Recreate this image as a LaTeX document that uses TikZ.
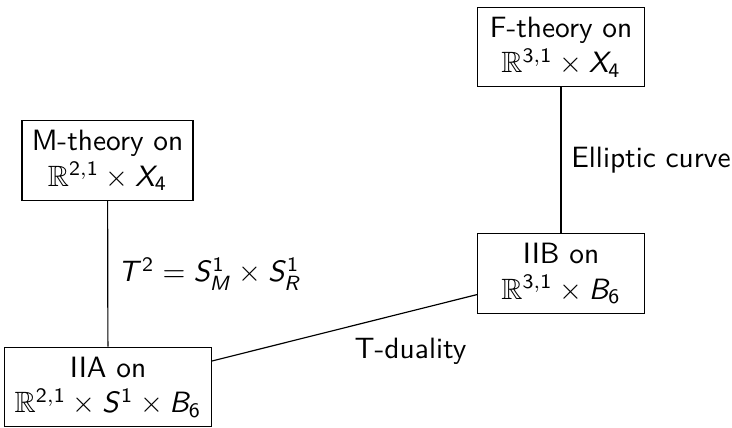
\documentclass[tikz,border=0pt]{standalone}
\usepackage{amsmath,amssymb}
\usepackage{tikz}
\usetikzlibrary{positioning}
% sans serif letters and digits in math
\DeclareSymbolFont{sfup}{OT1}{cmss}{m}{n}
\DeclareSymbolFont{sfit}{OT1}{cmss}{m}{sl}
\SetSymbolFont{operators}{normal}{OT1}{cmss}{m}{n}
\DeclareMathSymbol{T}{\mathalpha}{sfit}{`T}
\DeclareMathSymbol{S}{\mathalpha}{sfit}{`S}
\DeclareMathSymbol{M}{\mathalpha}{sfit}{`M}
\DeclareMathSymbol{R}{\mathalpha}{sfit}{`R}
\DeclareMathSymbol{X}{\mathalpha}{sfit}{`X}
\DeclareMathSymbol{B}{\mathalpha}{sfit}{`B}
\tikzset{
  theory/.style={draw,minimum width=2cm,align=center,font=\sffamily},
  duallabel/.style={font=\sffamily}
}

\begin{document}
\begin{tikzpicture}
  \useasboundingbox (0,0) rectangle (8.756,5.108);
  \node[theory] (iia) at (1.292,0.478) {IIA on\\$\mathbb{R}^{2,1}\times S^1\times B_6$};
  \node[theory] (mth) at (1.286,3.188) {M-theory on\\$\mathbb{R}^{2,1}\times X_4$};
  \node[theory] (iib) at (6.711,1.836) {IIB on\\$\mathbb{R}^{3,1}\times B_6$};
  \node[theory] (fth) at (6.711,4.545) {F-theory on\\$\mathbb{R}^{3,1}\times X_4$};

  \draw (mth) -- node[duallabel,right]{$T^2=S^1_M\times S^1_R$} (iia);
  \draw (fth) -- node[duallabel,right]{Elliptic curve} (iib);
  \draw (iia) -- node[duallabel,below right]{T-duality} (iib);
\end{tikzpicture}
\end{document}
